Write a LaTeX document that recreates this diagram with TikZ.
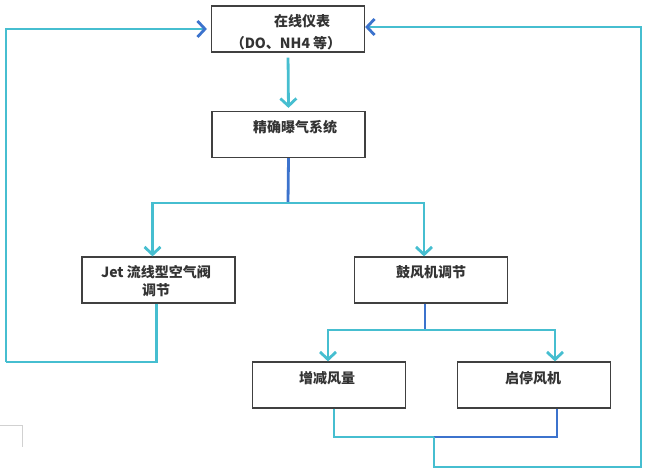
\documentclass[tikz,border=0pt]{standalone}
\usepackage{fontspec}
\setmainfont{Noto Sans CJK SC}
\usetikzlibrary{arrows.meta}
\definecolor{lc}{RGB}{70,190,208}
\definecolor{lb}{RGB}{60,115,205}
\begin{document}
\begin{tikzpicture}[x=1pt,y=-1pt,
  box/.style={draw=black!75,line width=1.2pt,inner sep=0pt,minimum width=153pt,minimum height=46pt},
  lbl/.style={inner sep=0pt,font=\fontsize{14pt}{17pt}\selectfont\bfseries,text=black!80},
  conn/.style={line width=2.8pt,color=lc,line join=miter},
  arr/.style={conn,-{Straight Barb[length=7.5pt,width=16pt]}}]
\useasboundingbox (0,0) rectangle (650,476);
% boxes
\node[box] (b1) at (288,29) {};
\node[box] (b2) at (288.5,134.5) {};
\node[box] (b3) at (158.5,280) {};
\node[box] (b4) at (431,280) {};
\node[box] (b5) at (329,385) {};
\node[box] (b6) at (534,385) {};
% texts
\node[lbl] (t1a) at (302,21) {在线仪表};
\node[lbl] (t1b) at (286,43) {（DO、NH4 等）};
\node[lbl] (t2) at (295,127) {精确曝气系统};
\node[lbl] (t3a) at (156,272) {Jet 流线型空气阀};
\node[lbl] (t3b) at (156,290) {调节};
\node[lbl] (t4) at (431,272) {鼓风机调节};
\node[lbl] (t5) at (327,378) {增减风量};
\node[lbl] (t6) at (533,378) {启停风机};
% connectors
\draw[arr, shorten <=5pt, shorten >=3pt] (b1.south) -- (b2.north);
\coordinate (s1) at (288,203);
\draw[conn, draw=lb] (b2.south) -- (s1);
\draw[arr] (s1) -| ([xshift=-6pt]b3.north);
\draw[arr] (s1) -| ([xshift=-7pt]b4.north);
% left loop
\coordinate (l1) at (6,362);
\coordinate (l2) at (6,29);
\draw[conn] ([xshift=-2pt]b3.south) |- (l1);
\draw[arr, -{Straight Barb[length=7.5pt,width=16pt,color=lb]}, shorten >=4pt] (l1) -- (l2) -- (l2 -| b1.west);
% fan branch
\coordinate (s2) at (425,330);
\draw[conn, draw=lb] ([xshift=-6pt]b4.south) -- (s2);
\draw[arr] (s2) -| ([xshift=-1pt]b5.north);
\draw[arr] (s2) -| ([xshift=21pt]b6.north);
% merge and right loop
\coordinate (m1) at (434,437);
\draw[conn] ([xshift=5pt]b5.south) |- (m1);
\draw[conn, draw=lb] ([xshift=23pt]b6.south) |- (m1);
\coordinate (r1) at (641,467);
\coordinate (r2) at (641,27);
\draw[arr, -{Straight Barb[length=7.5pt,width=16pt,color=lb]}] (m1) |- (r1) -- (r2) -- (r2 -| b1.east);
% faint corner mark
\draw[black!18, line width=0.7pt] (0,425) -- (22,425) -- (22,447);
\end{tikzpicture}
\end{document}
